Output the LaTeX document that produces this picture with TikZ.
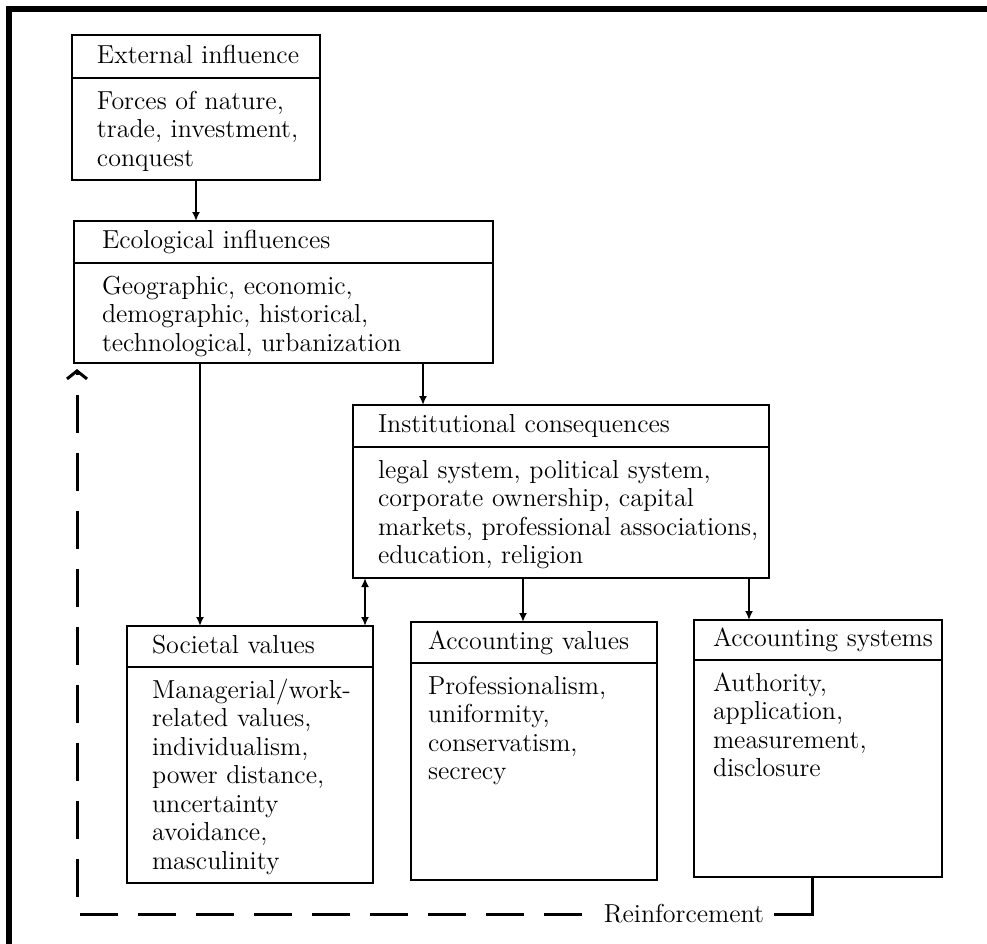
\documentclass[tikz,border=0pt]{standalone}
\usetikzlibrary{arrows.meta}
\tikzset{
  boxfont/.style={font=\fontsize{13}{14.25}\selectfont},
  lpad/.style={execute at begin node={\leftskip=#1\relax}},
  titlebox/.style={draw, line width=.9pt, anchor=north west, inner xsep=0pt, inner ysep=0pt,
    outer sep=0pt, align=left, text height=9pt, text depth=2.5pt, boxfont},
  bodybox/.style={draw, line width=.9pt, anchor=north west, inner xsep=0pt, inner ysep=6.5pt,
    outer sep=0pt, align=left, text height=9pt, boxfont},
  arr/.style={line width=1.3pt},
  back/.style={line width=1.5pt, dash pattern=on 19pt off 10pt},
}
\begin{document}
\begin{tikzpicture}[x=0.5pt, y=-0.5pt, >={Latex[length=4.5pt,width=4pt]}]
% \draw [help lines] (0,0) grid (987,944) ;
\useasboundingbox (0,0) rectangle (987,944);
\draw[line width=3pt] (8.5,944) -- (8.5,8.5) -- (987,8.5);

\node[titlebox, text width=124pt, minimum height=21.5pt, lpad=12.5pt] (ext) at (72,35) {External influence};
\node[bodybox, text width=124pt, text depth=29pt, lpad=12.5pt] (extb) at (ext.south west)
  {Forces of nature,\\ trade, investment,\\ conquest};

\node[titlebox, text width=209.5pt, minimum height=21pt, lpad=14pt] (eco) at (74,221) {Ecological influences};
\node[bodybox, text width=209.5pt, text depth=28pt, lpad=14pt] (ecob) at (eco.south west)
  {Geographic, economic,\\ demographic, historical,\\ technological, urbanization};

\node[titlebox, text width=208pt, minimum height=21pt, lpad=12.5pt] (inst) at (353,405) {Institutional consequences};
\node[bodybox, text width=208pt, text depth=43.5pt, lpad=12.5pt] (instb) at (inst.south west)
  {legal system, political system,\\ corporate ownership, capital\\ markets, professional associations,\\ education, religion};

\node[titlebox, text width=123pt, minimum height=20.5pt, lpad=12.5pt] (soc) at (127,626) {Societal values};
\node[bodybox, text width=123pt, text depth=86pt, lpad=12.5pt] (socb) at (soc.south west)
  {Managerial/work-\\ related values,\\ individualism,\\ power distance,\\ uncertainty\\ avoidance,\\ masculinity};

\node[titlebox, text width=123pt, minimum height=20.5pt, lpad=8.5pt] (accv) at (411,622) {Accounting values};
\node[bodybox, text width=123pt, text depth=86.5pt, lpad=8.5pt] (accvb) at (accv.south west)
  {Professionalism,\\ uniformity,\\ conservatism,\\ secrecy};

\node[titlebox, text width=124pt, minimum height=20pt, lpad=9.5pt] (accs) at (694,620) {Accounting systems};
\node[bodybox, text width=124pt, text depth=86.5pt, lpad=9.5pt] (accsb) at (accs.south west)
  {Authority,\\ application,\\ measurement,\\ disclosure};

\node[boxfont, inner sep=5pt] (reinf) at (684,914) {Reinforcement};

% arrows
\draw[arr, ->] (extb.south) -- (extb.south |- eco.north);
\draw[arr, ->] ([xshift=63pt]ecob.south west) -- ([xshift=63pt]ecob.south west |- soc.north);
\draw[arr, ->] ([xshift=174.5pt]ecob.south west) -- ([xshift=174.5pt]ecob.south west |- inst.north);
\draw[arr, <->] ([xshift=6pt]instb.south west) -- ([xshift=6pt]instb.south west |- soc.north);
\draw[arr, ->] ([xshift=85pt]instb.south west) -- ([xshift=85pt]instb.south west |- accv.north);
\draw[arr, ->] ([xshift=198pt]instb.south west) -- ([xshift=198pt]instb.south west |- accs.north);

% reinforcement loop
\draw[line width=1.5pt] ([xshift=59pt]accsb.south west) |- (reinf.east);
\draw[back, -{Straight Barb[length=4pt,width=10pt]}] ([xshift=-6pt]reinf.west)
  -| ([xshift=1.5pt, yshift=-3pt]ecob.south west);
\end{tikzpicture}
\end{document}
